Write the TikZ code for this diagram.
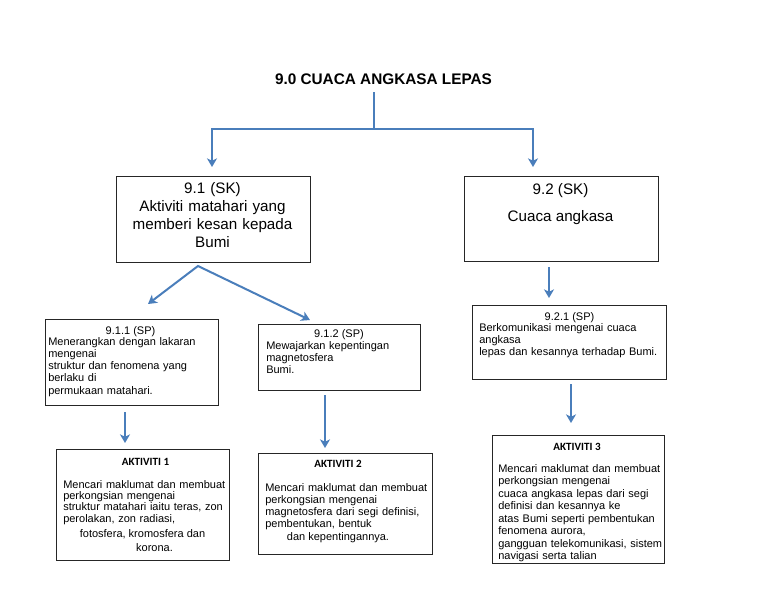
\documentclass[tikz,border=0pt]{standalone}
\usepackage{fontspec}
\setmainfont{Liberation Sans}
\newfontfamily\calfont{Carlito}
\usetikzlibrary{arrows.meta}
\definecolor{arrowblue}{RGB}{74,126,187}
\begin{document}
\begin{tikzpicture}[x=0.75pt,y=-0.75pt,
  box/.style={draw=black!85, line width=0.75pt, rectangle, inner sep=0pt},
  conn/.style={draw=arrowblue, line width=1.5pt},
  tipstyle/.tip={Stealth[length=6.5pt,width=7.5pt,inset=1.8pt]},
  arr/.style={conn, -tipstyle},
  txt/.style={inner sep=0pt, text width=150pt},
  ctxt/.style={inner sep=0pt, anchor=base},
  big/.style={font=\fontsize{11.4}{13.4}\selectfont},
  sml/.style={font=\fontsize{8.25}{9.2}\selectfont},
  akt/.style={inner sep=0pt, anchor=base, font=\calfont\bfseries\fontsize{8.3}{10}\selectfont}
]
\useasboundingbox (0,0) rectangle (768,594);
\fill[white] (0,0) rectangle (768,594);

% title
\node[ctxt, font=\bfseries\fontsize{11.5}{13}\selectfont] (title) at (383.5,84.5) {9.0 CUACA ANGKASA LEPAS};

% boxes
\node[box, minimum width=145.5pt, minimum height=64.5pt] (b91) at (213,219) {};
\node[box, minimum width=145.5pt, minimum height=63.75pt] (b92) at (561,218.5) {};
\node[box, minimum width=129.75pt, minimum height=64.5pt] (b911) at (131.5,362) {};
\node[box, minimum width=121.5pt, minimum height=49.5pt] (b912) at (339,357) {};
\node[box, minimum width=145.5pt, minimum height=55.5pt] (b921) at (569,342) {};
\node[box, minimum width=129.75pt, minimum height=83.25pt] (a1) at (142.5,504.5) {};
\node[box, minimum width=130.5pt, minimum height=75.75pt] (a2) at (345,503.5) {};
\node[box, minimum width=129pt, minimum height=96pt] (a3) at (578,499) {};

% texts of 9.1 and 9.2
\node[ctxt, big, align=center, text width=145pt] (t91) at (212.5,193.5)
  {9.1 (SK)\\Aktiviti matahari yang\\memberi kesan kepada\\Bumi};
\node[ctxt, big] (h92) at (560.5,194.5) {9.2 (SK)};
\node[ctxt, big] (t92) at (560.5,221) {Cuaca angkasa};

% 9.1.1
\node[ctxt, sml] (h911) at (130.5,334) {9.1.1 (SP)};
\node[txt, sml, align=left, anchor=base west] (t911) at (48,345)
  {Menerangkan dengan lakaran\\mengenai\\struktur dan fenomena yang\\berlaku di\\permukaan matahari.};

% 9.1.2
\node[ctxt, sml] (h912) at (339,337) {9.1.2 (SP)};
\node[txt, sml, align=left, anchor=base west, font=\fontsize{8.25}{9}\selectfont] (t912) at (266,349)
  {Mewajarkan kepentingan\\magnetosfera\\Bumi.};

% 9.2.1
\node[ctxt, sml] (h921) at (569.5,320) {9.2.1 (SP)};
\node[txt, sml, align=left, anchor=base west, font=\fontsize{8.25}{9.15}\selectfont] (t921) at (479,331)
  {Berkomunikasi mengenai cuaca\\angkasa\\lepas dan kesannya terhadap Bumi.};

% Aktiviti 1
\node[akt] (ha1) at (145.5,465.5) {AKTIVITI 1};
\node[txt, align=left, anchor=base west, font=\fontsize{8.25}{8.6}\selectfont] (ta1) at (63,488)
  {Mencari maklumat dan membuat\\perkongsian mengenai\\struktur matahari iaitu teras, zon\\perolakan, zon radiasi,};
\node[ctxt, sml] (fa1) at (142.5,537) {fotosfera, kromosfera dan};
\node[ctxt, sml] (ka1) at (154.5,551) {korona.};

% Aktiviti 2
\node[akt] (ha2) at (338,467) {AKTIVITI 2};
\node[txt, align=left, anchor=base west, font=\fontsize{8.25}{9}\selectfont] (ta2) at (265,491)
  {Mencari maklumat dan membuat\\perkongsian mengenai\\magnetosfera dari segi definisi,\\pembentukan, bentuk};
\node[ctxt, sml] (da2) at (338,540) {dan kepentingannya.};

% Aktiviti 3
\node[akt] (ha3) at (577,450.5) {AKTIVITI 3};
\node[txt, align=left, anchor=base west, font=\fontsize{8.25}{9.4}\selectfont] (ta3) at (498,472)
  {Mencari maklumat dan membuat\\perkongsian mengenai\\cuaca angkasa lepas dari segi\\definisi dan kesannya ke\\atas Bumi seperti pembentukan\\fenomena aurora,\\gangguan telekomunikasi, sistem\\navigasi serta talian};

% connector points
\coordinate (ttop) at (374,92);
\coordinate (tj) at (374,129);
\coordinate (tipA) at (212,167);
\coordinate (tipB) at (533,167);
\coordinate (apex) at (198,266);
\coordinate (tipL) at (148,304);
\coordinate (tipR) at (310,320);
\coordinate (s92) at (549,267);
\coordinate (e92) at (549,298);
\coordinate (s911) at (125,412);
\coordinate (e911) at (125,443);
\coordinate (s912) at (325,395);
\coordinate (e912) at (325,448);
\coordinate (s921) at (571,384);
\coordinate (e921) at (571,423);

% connectors
\draw[conn] (ttop) -- (tj);
\draw[arr] (tj) -| (tipA);
\draw[arr] (tj) -| (tipB);
\draw[conn, tipstyle-tipstyle] (tipL) -- (apex) -- (tipR);
\draw[arr] (s92) -- (e92);
\draw[arr] (s911) -- (e911);
\draw[arr] (s912) -- (e912);
\draw[arr] (s921) -- (e921);
\end{tikzpicture}
\end{document}
